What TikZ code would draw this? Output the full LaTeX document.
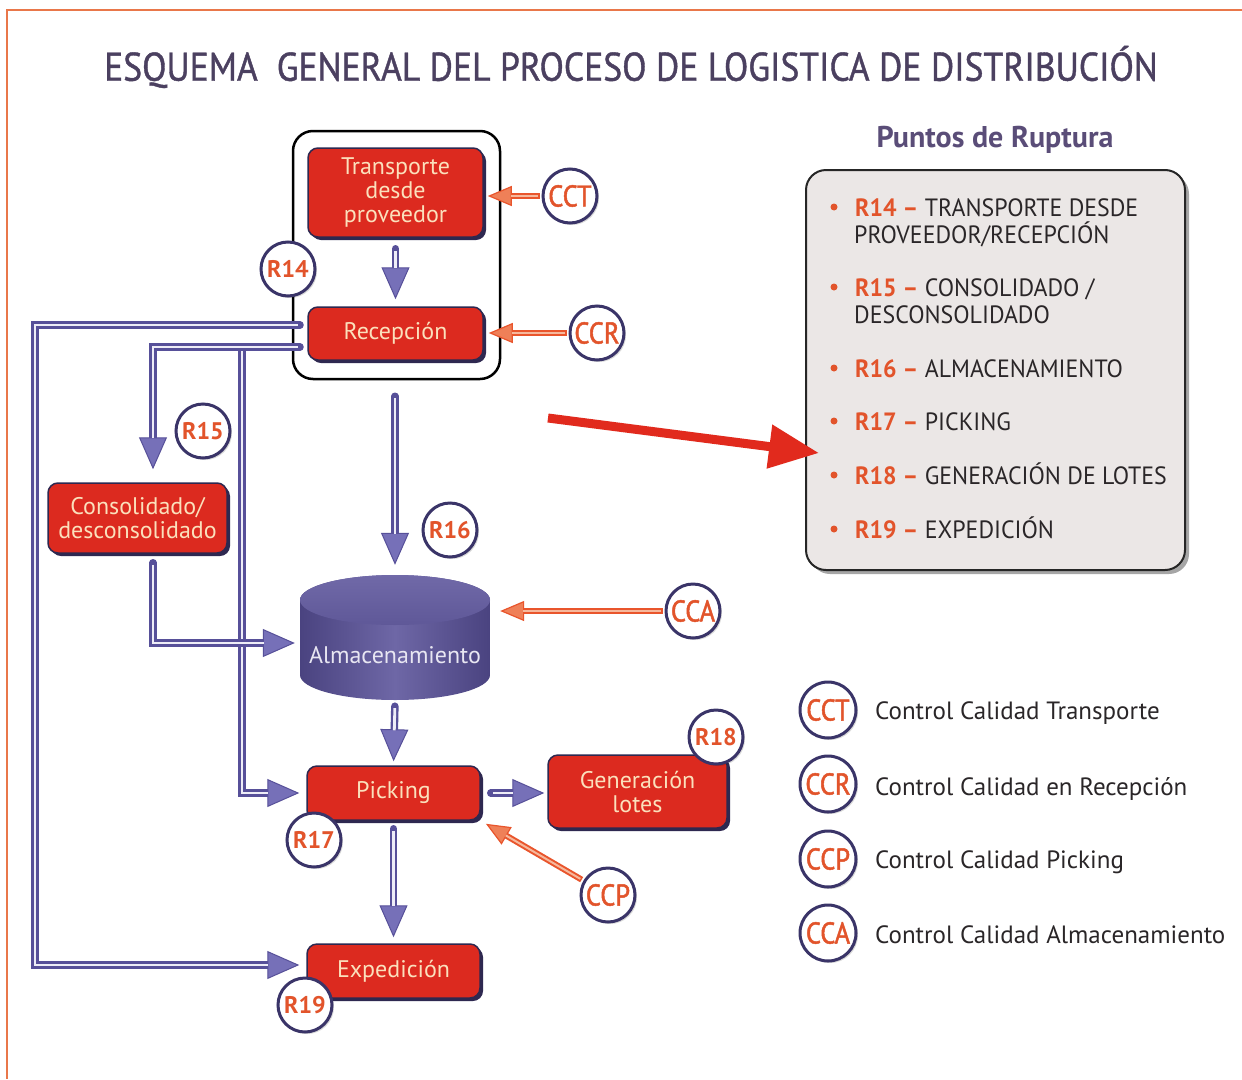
\documentclass[tikz,border=0pt]{standalone}
\usepackage{fontspec}
\setmainfont{PT Sans}
\newfontfamily\titlef{PT Sans}[FakeStretch=0.89,FakeBold=1]
\newfontfamily\ccf{PT Sans}[FakeStretch=0.88,FakeBold=1.6]
\newfontfamily\semif{PT Sans}[FakeStretch=0.955]
\usetikzlibrary{arrows.meta,shadows,calc}
\definecolor{frame}{HTML}{E9774A}
\definecolor{titlec}{HTML}{4B4060}
\definecolor{puntc}{HTML}{5A4D78}
\definecolor{boxred}{HTML}{DC2A1F}
\definecolor{boxtxt}{HTML}{FBE0BC}
\definecolor{dark}{HTML}{2E2850}
\definecolor{flowc}{HTML}{575099}
\definecolor{flowhead}{HTML}{7670B8}
\definecolor{flowin}{HTML}{EEEDF7}
\definecolor{ctrlc}{HTML}{E9552C}
\definecolor{ctrlfill}{HTML}{EF8058}
\definecolor{ctrlin}{HTML}{F6B89C}
\definecolor{cdark}{HTML}{3A3468}
\definecolor{corange}{HTML}{E2542B}
\definecolor{legfill}{HTML}{EBE7E6}
\definecolor{ltxt}{HTML}{2A2628}
\definecolor{cyl1}{HTML}{4A4380}
\definecolor{cyl2}{HTML}{6E67A6}
\definecolor{cyltop}{HTML}{5F5898}
\definecolor{cyltop2}{HTML}{7069A8}
\definecolor{almtxt}{HTML}{E8E6F2}
\definecolor{bigred}{HTML}{E12A1D}
\tikzset{
  redbox/.style={rectangle, rounded corners=10pt, fill=boxred, draw=dark, line width=1.5pt,
    text=boxtxt, align=center, inner sep=0pt, font=\fontsize{24}{24}\selectfont,
    drop shadow={shadow xshift=3pt, shadow yshift=-3pt, fill=dark, opacity=1}},
  rcirc/.style={circle, draw=cdark, line width=3pt, fill=white, minimum size=54pt, inner sep=0pt,
    text=corange, font=\bfseries\fontsize{24}{24}\selectfont,
    drop shadow={shadow xshift=2pt, shadow yshift=-2pt, fill=black, opacity=0.15}},
  ccirc/.style={rcirc, font=\ccf\fontsize{30}{30}\selectfont},
  flow/.style 2 args={draw=flowc, line width=7.5pt, line cap=round, shorten <=#1, shorten >=#2,
    -{Triangle[length=32pt,width=28pt,line width=1pt,fill=flowhead]},
    postaction={draw=flowin, line width=2.8pt, -, line cap=butt, shorten <=#1+2pt, shorten >=#2+31pt}},
  ctrl/.style 2 args={draw=ctrlc, line width=6pt, shorten <=#1, shorten >=#2,
    -{Triangle[length=24pt,width=20pt,line width=1.2pt,fill=ctrlfill]},
    postaction={draw=ctrlin, line width=2pt, -, shorten <=#1+1.5pt, shorten >=#2+23pt}},
  listtxt/.style={anchor=base west, inner sep=0pt, text=ltxt, font=\semif\fontsize{25}{25}\selectfont},
  legtxt/.style={anchor=base west, inner sep=0pt, text=ltxt, font=\fontsize{25}{25}\selectfont},
}
\begin{document}
\begin{tikzpicture}[x=1pt,y=-1pt]
\useasboundingbox (0,0) rectangle (1242,1079);
\fill[white] (0,0) rectangle (1242,1079);
% frame
\draw[frame, line width=2.5pt] (1242,10) -- (7,10) -- (7,1079);
% title
\node[text=titlec, font=\titlef\fontsize{40}{40}\selectfont, inner sep=0pt] (title) at (631,67)
  {ESQUEMA\ \ GENERAL DEL PROCESO DE LOGISTICA DE DISTRIBUCIÓN};
\node[text=puntc, font=\bfseries\fontsize{30}{30}\selectfont, inner sep=0pt] (punt) at (995,140) {Puntos de Ruptura};

% group box
\node[draw=black, line width=2.5pt, rounded corners=20pt, fill=white, minimum width=207pt, minimum height=248pt] (grp) at (396.5,255) {};

% red boxes
\node[redbox, minimum width=175pt, minimum height=89pt] (trans) at (395.5,192.5) {Transporte\\desde\\proveedor};
\node[redbox, minimum width=175pt, minimum height=53pt] (recep) at (395.5,333.5) {Recepción};
\node[redbox, minimum width=179pt, minimum height=70pt] (cons) at (137.5,518) {Consolidado/\\desconsolidado};
\node[redbox, minimum width=173pt, minimum height=54pt] (pick) at (393.5,793) {Picking};
\node[redbox, minimum width=179pt, minimum height=73pt] (gen) at (637.5,791.5) {Generación\\lotes};
\node[redbox, minimum width=173pt, minimum height=54pt] (exped) at (393.5,971) {Expedición};

% cylinder
\node[minimum width=190pt, minimum height=125pt, inner sep=0pt] (alm) at (395,637.5) {};
\path[left color=cyl1, right color=cyl1, middle color=cyl2]
  (300,600) -- (300,675) arc[start angle=180,end angle=360,x radius=95pt,y radius=25pt]
  -- (490,600) arc[start angle=0,end angle=180,x radius=95pt,y radius=25pt] -- cycle;
\path[top color=cyltop2, bottom color=cyltop] (395,600) ellipse[x radius=95pt, y radius=25pt];
\node[text=almtxt, font=\fontsize{24}{24}\selectfont] (almt) at (395,655) {Almacenamiento};

% flow arrows
\coordinate (o1) at (300,325);
\coordinate (o2) at (300,347);
\coordinate (j1) at (242,347);
\draw[flow={0pt}{7pt}] (j1) |- (pick.west);
\draw[flow={0pt}{7pt}] (o1) -- (35,325) |- ([yshift=6pt]exped.west);
\draw[flow={0pt}{13pt}] (o2) -| ([xshift=15.5pt]cons.north);
\draw[flow={9pt}{5pt}] ([xshift=15.5pt]cons.south) |- ([yshift=-5.5pt]alm.west);
\draw[flow={11pt}{7pt}] (trans.south) -- (recep.north);
\draw[flow={16pt}{10pt}] (alm.north |- grp.south) -- (alm.north);
\draw[flow={6pt}{4pt}] (alm.south) -- (pick.north);
\draw[flow={8pt}{6pt}] (pick.south) -- (exped.north);
\draw[flow={10pt}{3pt}] (pick.east) -- (pick.east -| gen.west);

% control circles
\node[ccirc] (cct) at (570,196) {CCT};
\node[ccirc] (ccr) at (597,333) {CCR};
\node[ccirc] (cca) at (693,611) {CCA};
\node[ccirc] (ccp) at (608,895) {CCP};
\draw[ctrl={2pt}{4pt}] (cct.west) -- (cct.west -| trans.east);
\draw[ctrl={2pt}{5pt}] (ccr.west) -- (ccr.west -| recep.east);
\draw[ctrl={2pt}{10pt}] (cca.west) -- (cca.west -| alm.east);
\draw[ctrl={2pt}{6pt}] (ccp) -- (pick.south east);

% R circles
\node[rcirc] (r14) at (288,269) {R14};
\node[rcirc] (r15) at (203,431) {R15};
\node[rcirc] (r16) at (450,530) {R16};
\node[rcirc] (r18) at (716,737) {R18};
\node[rcirc] (r17) at (314,840) {R17};
\node[rcirc] (r19) at (305,1005) {R19};

% legend box
\node[draw=black!85, line width=2pt, rounded corners=20pt, fill=legfill, minimum width=379pt, minimum height=400pt,
  drop shadow={shadow xshift=4pt, shadow yshift=-4pt, fill=black, opacity=0.35}] (leg) at (995.5,370) {};
\coordinate (rs) at (548,418);
\draw[bigred, line width=9pt, -{Triangle[length=50pt,width=42pt]}] (rs) -- ([xshift=14pt,yshift=-83pt]leg.west);

\foreach \y in {207,287,368,421,475,529} \fill[corange] (834,\y) circle[radius=3.5pt];
\node[listtxt] (l1) at (855,216) {{\color{corange}\bfseries R14 –} TRANSPORTE DESDE};
\node[listtxt] (l1b) at (854,243) {PROVEEDOR/RECEPCIÓN};
\node[listtxt] (l2) at (855,296) {{\color{corange}\bfseries R15 –} CONSOLIDADO /};
\node[listtxt] (l2b) at (854,323) {DESCONSOLIDADO};
\node[listtxt] (l3) at (855,377) {{\color{corange}\bfseries R16 –} ALMACENAMIENTO};
\node[listtxt] (l4) at (855,430) {{\color{corange}\bfseries R17 –} PICKING};
\node[listtxt] (l5) at (855,484) {{\color{corange}\bfseries R18 –} GENERACIÓN DE LOTES};
\node[listtxt] (l6) at (855,538) {{\color{corange}\bfseries R19 –} EXPEDICIÓN};

% legend of controls
\node[ccirc, minimum size=56pt] (k1) at (828,710) {CCT};
\node[ccirc, minimum size=56pt] (k2) at (828,784) {CCR};
\node[ccirc, minimum size=56pt] (k3) at (828,859) {CCP};
\node[ccirc, minimum size=56pt] (k4) at (828,933) {CCA};
\node[legtxt] (t1) at (875,719) {Control Calidad Transporte};
\node[legtxt] (t2) at (875,795) {Control Calidad en Recepción};
\node[legtxt] (t3) at (875,868) {Control Calidad Picking};
\node[legtxt] (t4) at (875,943) {Control Calidad Almacenamiento};
\end{tikzpicture}
\end{document}
